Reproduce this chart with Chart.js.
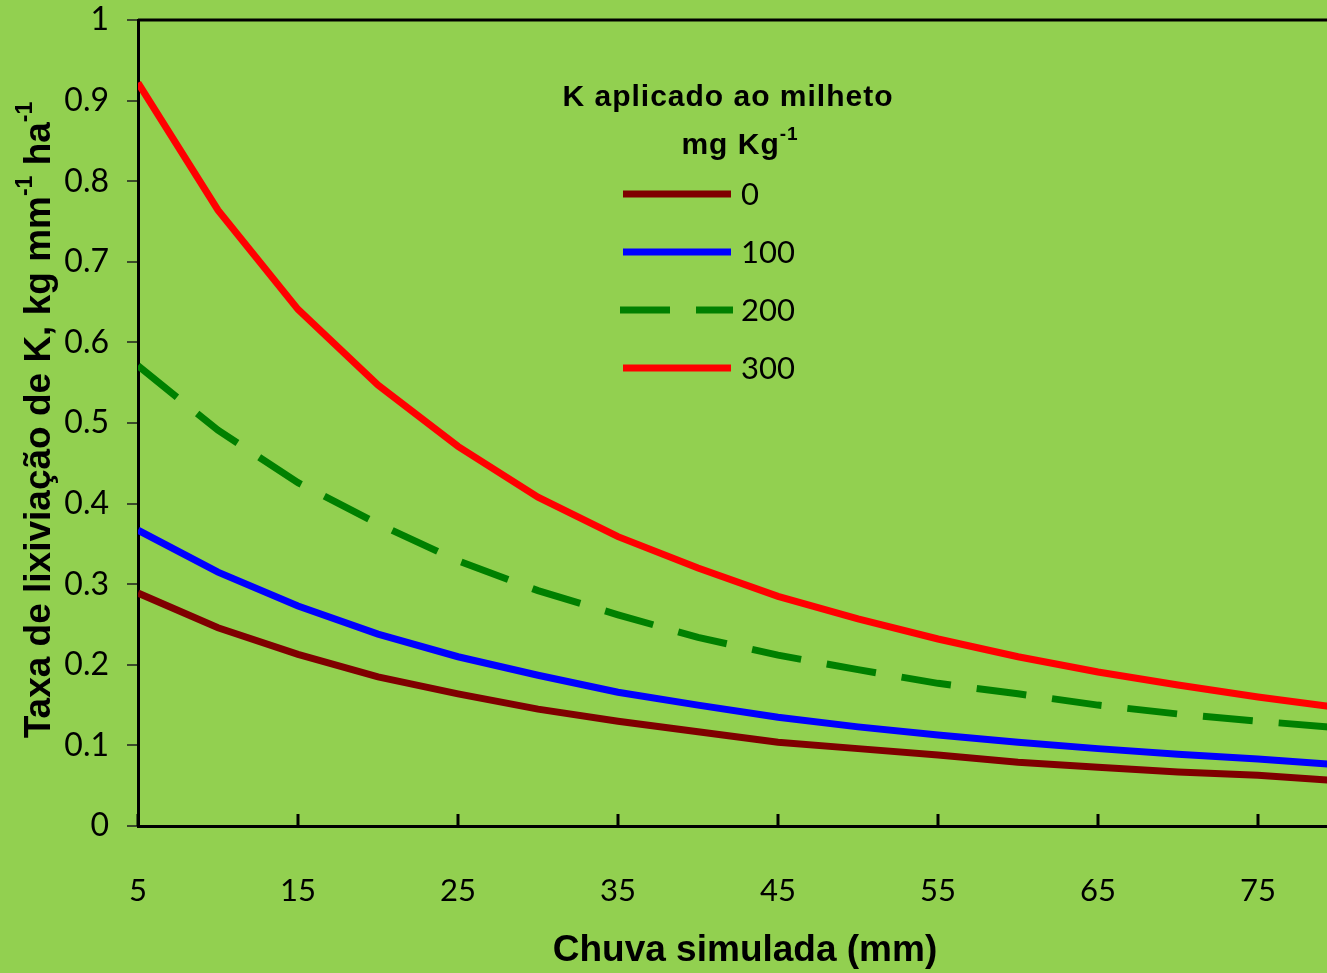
<!DOCTYPE html>
<html>
<head>
<meta charset="utf-8">
<script src="https://cdn.jsdelivr.net/npm/chart.js@4"></script>
<style>
  html, body { margin: 0; padding: 0; background: #92D050; overflow: hidden; }
  #wrap { position: relative; width: 1340px; height: 973px; }
</style>
</head>
<body>
<div id="wrap"><canvas id="leachChart"></canvas></div>
<script>
// Chuva simulada (mm)
const rainfall = [5, 10, 15, 20, 25, 30, 35, 40, 45, 50, 55, 60, 65, 70, 75, 80];
const xTickValues = [5, 15, 25, 35, 45, 55, 65, 75];

// Taxa de lixiviação de K por dose de K aplicado
const k0   = [0.289, 0.246, 0.213, 0.185, 0.164, 0.145, 0.130, 0.117, 0.104, 0.096, 0.088, 0.079, 0.073, 0.067, 0.063, 0.056];
const k100 = [0.367, 0.315, 0.273, 0.238, 0.210, 0.187, 0.166, 0.150, 0.135, 0.123, 0.113, 0.104, 0.096, 0.089, 0.083, 0.076];
const k200 = [0.571, 0.491, 0.426, 0.375, 0.329, 0.292, 0.262, 0.234, 0.212, 0.194, 0.177, 0.164, 0.150, 0.139, 0.130, 0.122];
const k300 = [0.922, 0.764, 0.641, 0.547, 0.471, 0.408, 0.359, 0.320, 0.285, 0.257, 0.232, 0.210, 0.191, 0.175, 0.160, 0.147];

const doseLabels = ['0', '100', '200', '300'];

const TICK_FONT = 'Lato, "Open Sans", sans-serif';
const TITLE_FONT = '"Liberation Sans", Arial, sans-serif';

const toXY = arr => arr.map((v, i) => ({ x: rainfall[i], y: v }));

// texto com sobrescritos (kg mm-1 ha-1)
function drawRich(ctx, parts, cx, cy, size, spacing) {
    const supSize = Math.round(size * 0.62);
    ctx.letterSpacing = (spacing || 0) + 'px';
    let total = 0;
    parts.forEach(p => {
        ctx.font = `bold ${p.sup ? supSize : size}px ${TITLE_FONT}`;
        total += ctx.measureText(p.t).width;
    });
    let x = cx - total / 2;
    ctx.textBaseline = 'middle';
    ctx.textAlign = 'left';
    parts.forEach(p => {
        ctx.font = `bold ${p.sup ? supSize : size}px ${TITLE_FONT}`;
        ctx.fillText(p.t, x, p.sup ? cy - size * 0.38 : cy);
        x += ctx.measureText(p.t).width;
    });
    ctx.letterSpacing = '0px';
}

const decorPlugin = {
    id: 'decor',
    afterDraw(chart) {
        const ctx = chart.ctx;
        const area = chart.chartArea;
        const xs = chart.scales.x;
        ctx.save();
        ctx.fillStyle = '#000';
        ctx.strokeStyle = '#000';

        // moldura superior / direita
        ctx.lineWidth = 3;
        ctx.beginPath();
        ctx.moveTo(area.left, area.top);
        ctx.lineTo(area.right, area.top);
        ctx.lineTo(area.right, area.bottom);
        ctx.stroke();

        // marcas do eixo x para dentro
        xTickValues.forEach(v => {
            const px = xs.getPixelForValue(v);
            ctx.beginPath();
            ctx.moveTo(px, area.bottom);
            ctx.lineTo(px, area.bottom - 12);
            ctx.stroke();
        });

        // titulo eixo x
        ctx.font = `bold 37px ${TITLE_FONT}`;
        ctx.textAlign = 'center';
        ctx.textBaseline = 'middle';
        ctx.fillText('Chuva simulada (mm)', 745, 951);

        // titulo eixo y
        ctx.save();
        ctx.translate(40, 420);
        ctx.rotate(-Math.PI / 2);
        drawRich(ctx, [
            { t: 'Taxa de lixiviação de K, kg mm' },
            { t: '-1', sup: true },
            { t: ' ha' },
            { t: '-1', sup: true }
        ], 0, 0, 37);
        ctx.restore();

        // legenda
        drawRich(ctx, [{ t: 'K aplicado ao milheto' }], 728, 98, 30, 1);
        drawRich(ctx, [{ t: 'mg Kg' }, { t: '-1', sup: true }], 740, 146, 30, 1);
        const rows = [194, 252, 310, 368];
        chart.data.datasets.forEach((ds, i) => {
            const y = rows[i];
            ctx.save();
            ctx.strokeStyle = ds.borderColor;
            ctx.lineWidth = 7;
            ctx.setLineDash(ds.borderDash || []);
            ctx.beginPath();
            ctx.moveTo(ds.borderDash ? 620 : 623, y);
            ctx.lineTo(ds.borderDash ? 733 : 731, y);
            ctx.stroke();
            ctx.restore();
            ctx.font = `31px ${TICK_FONT}`;
            ctx.textAlign = 'left';
            ctx.textBaseline = 'middle';
            ctx.fillText(ds.label, 741, y + 1);
        });
        ctx.restore();
    }
};

new Chart(document.getElementById('leachChart'), {
    type: 'line',
    data: {
        datasets: [
            { label: doseLabels[0], data: toXY(k0),   borderColor: '#7F0000' },
            { label: doseLabels[1], data: toXY(k100), borderColor: '#0000FF' },
            { label: doseLabels[2], data: toXY(k200), borderColor: '#008000', borderDash: [50, 26] },
            { label: doseLabels[3], data: toXY(k300), borderColor: '#FF0000' }
        ].map(d => Object.assign({ borderWidth: 7, pointRadius: 0, tension: 0, fill: false }, d))
    },
    options: {
        responsive: true,
        maintainAspectRatio: false,
        animation: false,
        layout: { padding: { top: 20, right: 2, left: 0, bottom: 0 } },
        plugins: { legend: { display: false }, tooltip: { enabled: false } },
        scales: {
            x: {
                type: 'linear',
                min: 5,
                max: 80,
                afterBuildTicks: scale => { scale.ticks = xTickValues.map(v => ({ value: v })); },
                afterFit: scale => {
                    scale.height = 147;
                    scale.paddingLeft = 0;
                    scale.paddingRight = 0;
                },
                grid: { display: true, drawOnChartArea: false, drawTicks: false },
                border: { display: true, color: '#000', width: 3 },
                ticks: {
                    color: '#000',
                    font: { family: TICK_FONT, size: 31 },
                    padding: 46,
                    maxRotation: 0,
                    autoSkip: false
                }
            },
            y: {
                min: 0,
                max: 1,
                afterFit: scale => {
                    scale.width = 138;
                    scale.paddingTop = 0;
                    scale.paddingBottom = 0;
                },
                grid: { drawOnChartArea: false, drawTicks: true, tickLength: 11, color: '#3a4a2a', lineWidth: 2 },
                border: { display: true, color: '#000', width: 3 },
                ticks: {
                    stepSize: 0.1,
                    color: '#000',
                    padding: 18,
                    font: { family: TICK_FONT, size: 32 },
                    callback: v => String(Math.round(v * 10) / 10)
                }
            }
        }
    },
    plugins: [decorPlugin]
});
</script>
</body>
</html>
